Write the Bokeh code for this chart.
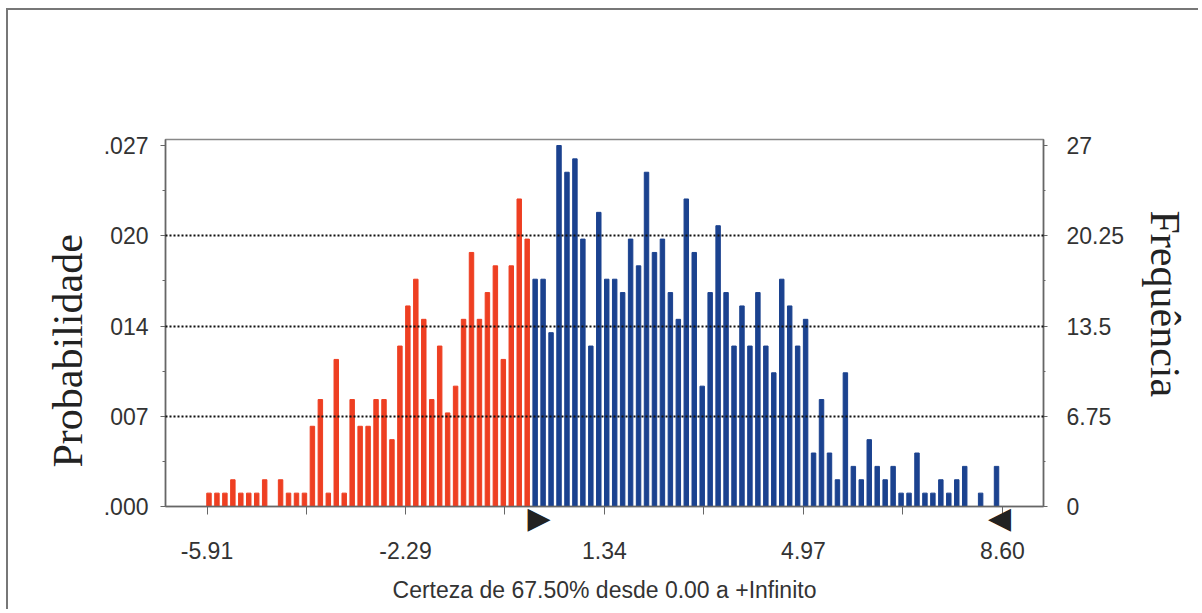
from bokeh.plotting import figure
from bokeh.models import Range1d, LinearAxis, FixedTicker, Title, ColumnDataSource
from bokeh.embed import file_html
from bokeh.resources import INLINE

# ---------------- data ----------------
x_min = -5.91
x_max = 8.60
n_bins = 100
freq = [1, 1, 1, 2, 1, 1, 1, 2, 0, 2,
        1, 1, 1, 6, 8, 1, 11, 1, 8, 6,
        6, 8, 8, 5, 12, 15, 17, 14, 8, 12,
        7, 9, 14, 19, 14, 16, 18, 11, 18, 23,
        20,
        17, 17, 13, 27, 25, 26, 20, 12, 22, 17,
        17, 16, 20, 18, 25, 19, 20, 16, 14, 23,
        19, 9, 16, 21, 16, 12, 15, 12, 16, 12,
        10, 17, 15, 12, 14, 4, 8, 4, 2, 10,
        3, 2, 5, 3, 2, 3, 1, 1, 4, 1,
        1, 2, 1, 2, 3, 0, 1, 0, 3]
x_tick_values = [-5.91, -2.29, 1.34, 4.97, 8.60]
x_tick_labels = ["-5.91", "-2.29", "1.34", "4.97", "8.60"]
freq_ticks = [0.0, 6.75, 13.5, 20.25, 27.0]
freq_labels = ["0", "6.75", "13.5", "20.25", "27"]
prob_labels = [".000", "007", "014", "020", ".027"]
certainty_low = 0.00
certainty_high = 8.60
grabber_labels = ["▶", "◀"]
y_title_left = "Probabilidade"
y_title_right = "Frequência"
x_title = "Certeza de 67.50% desde 0.00 a +Infinito"

RED = "#EE3F22"
BLUE = "#1B428F"
GRAY = "#666666"
TXT = "#333333"

# ---------------- geometry (page pixels) ----------------
OX, OY = 8, 10                      # figure origin on the page (via margin)
W, H = 1192, 601
frame_left, frame_right = 165, 1043
frame_top, frame_bottom = 139, 506
px_first_tick, px_last_tick = 206.5, 1002
px_per_x = (px_last_tick - px_first_tick) / (x_max - x_min)
x_start = x_min - (px_first_tick - frame_left) / px_per_x
x_end = x_max + (frame_right - px_last_tick) / px_per_x
px_per_y = (frame_bottom - 145) / freq_ticks[-1]
y_start = 0.0
y_end = (frame_bottom - frame_top) / px_per_y

bin_w = (x_max - x_min) / n_bins
centers = [x_min + bin_w * (i + 0.25) for i in range(n_bins)]
colors = [RED if c < certainty_low else BLUE for c in centers]
src = ColumnDataSource(dict(x=centers, top=freq, color=colors))

p = figure(width=W, height=H, output_backend="svg", toolbar_location=None,
           x_range=Range1d(x_start, x_end), y_range=Range1d(y_start, y_end),
           min_border_left=frame_left - OX, min_border_right=OX + W - frame_right,
           min_border_top=frame_top - OY, min_border_bottom=OY + H - frame_bottom)
p.margin = (OY, 0, 0, OX)
p.styles = {"box-shadow": "-2px -2px 0 0 #777777"}
p.outline_line_color = "#888888"
p.outline_line_width = 1.5
p.background_fill_color = "white"
p.border_fill_color = "white"

p.vbar(x="x", top="top", width=bin_w * 0.56, bottom=0, color="color", source=src)


def style_axis(ax, tick_out, minor_out, standoff):
    ax.major_label_text_font = "Liberation Sans"
    ax.major_label_text_font_size = "23px"
    ax.major_label_text_color = TXT
    ax.major_label_standoff = standoff
    ax.major_tick_out = tick_out
    ax.major_tick_in = 0
    ax.minor_tick_out = minor_out
    ax.minor_tick_in = 0
    ax.axis_line_color = GRAY
    ax.major_tick_line_color = GRAY
    ax.minor_tick_line_color = GRAY
    ax.axis_line_width = 1.5


# x axis (numbers + title)
x_minor = [(a + b) / 2 for a, b in zip(x_tick_values[:-1], x_tick_values[1:])]
xa = p.xaxis[0]
xa.ticker = FixedTicker(ticks=x_tick_values, minor_ticks=x_minor)
xa.major_label_overrides = dict(zip(x_tick_values, x_tick_labels))
style_axis(xa, 8, 8, 27)
xa.axis_label = x_title
xa.axis_label_text_font = "Liberation Sans"
xa.axis_label_text_font_size = "23px"
xa.axis_label_text_font_style = "normal"
xa.axis_label_text_color = TXT
xa.axis_label_standoff = 15

# certainty grabbers drawn as labels of a second, line-less axis pulled up under the first
grab_ticks = [certainty_low + 8 / px_per_x, certainty_high - 3 / px_per_x]
ga = LinearAxis(ticker=FixedTicker(ticks=grab_ticks, minor_ticks=[]),
                major_label_overrides=dict(zip(grab_ticks, grabber_labels)))
ga.axis_line_color = None
ga.major_tick_line_color = None
ga.minor_tick_line_color = None
ga.major_tick_out = 0
ga.major_tick_in = 0
ga.minor_tick_out = 0
ga.minor_tick_in = 0
ga.major_label_text_font = "DejaVu Sans"
ga.major_label_text_font_size = "30px"
ga.major_label_text_color = "#222222"
ga.major_label_standoff = -106
p.add_layout(ga, "below")

# y axes
y_minor = [(a + b) / 2 for a, b in zip(freq_ticks[:-1], freq_ticks[1:])]
ya = p.yaxis[0]
ya.ticker = FixedTicker(ticks=freq_ticks, minor_ticks=y_minor)
ya.major_label_overrides = dict(zip(freq_ticks, prob_labels))
style_axis(ya, 5, 3, 12)

ra = LinearAxis(ticker=FixedTicker(ticks=freq_ticks, minor_ticks=y_minor),
                major_label_overrides=dict(zip(freq_ticks, freq_labels)))
style_axis(ra, 4, 2, 19)
p.add_layout(ra, "right")

# grid
p.xgrid.visible = False
p.ygrid.ticker = FixedTicker(ticks=freq_ticks[1:-1])
p.ygrid.grid_line_color = "#111111"
p.ygrid.grid_line_dash = "2 2"
p.ygrid.grid_line_width = 2
p.ygrid.level = "overlay"

# side titles
t_left = Title(text=y_title_left, align="left", offset=39,
               text_font="Liberation Serif", text_font_size="42px",
               text_font_style="normal", text_color="#222222")
t_right = Title(text=y_title_right, align="left", offset=71, vertical_align="top",
                text_font="Liberation Serif", text_font_size="42px",
                text_font_style="normal", text_color="#222222")
for t, s in ((t_left, 20), (t_right, 25)):
    try:
        t.standoff = s
    except Exception:
        pass
p.add_layout(t_left, "left")
p.add_layout(t_right, "right")

open("out.html", "w").write(file_html(p, INLINE))
